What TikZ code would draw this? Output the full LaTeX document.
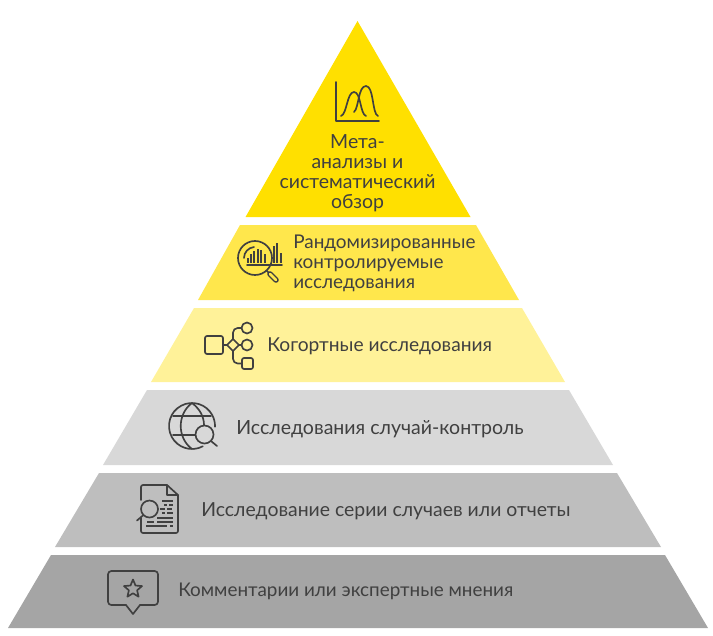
\documentclass[tikz,border=0pt]{standalone}
\usepackage{fontspec}
\setmainfont{Lato}
\definecolor{ink}{HTML}{404040}
\definecolor{lay1}{HTML}{FFE000}
\definecolor{lay2}{HTML}{FFE74C}
\definecolor{lay3}{HTML}{FFF299}
\definecolor{lay4}{HTML}{D8D8D8}
\definecolor{lay5}{HTML}{BEBEBE}
\definecolor{lay6}{HTML}{A5A5A5}
\tikzset{
  label text/.style={inner sep=0pt,text=ink,anchor=west},
  fs/.style={font=\fontsize{#1pt}{15pt}\selectfont},
  ico/.style={draw=ink,line width=1.25pt,line join=round,line cap=round,fill=none},
  icothin/.style={draw=ink,line width=0.9pt,line cap=butt,fill=none},
}
\begin{document}
\begin{tikzpicture}[x=0.75pt,y=-0.75pt]
\useasboundingbox (0,0) rectangle (713,635);
% layers
\fill[lay1] (357.5,21) -- (470.5,217) -- (245.5,217) -- cycle;
\fill[lay2] (240,225) -- (476,225) -- (519,300) -- (198,300) -- cycle;
\fill[lay3] (194,308) -- (522,308) -- (565,382) -- (151,382) -- cycle;
\fill[lay4] (147,390) -- (569,390) -- (613,465) -- (103,465) -- cycle;
\fill[lay5] (99,473) -- (617,473) -- (661,547) -- (55,547) -- cycle;
\fill[lay6] (51,555) -- (665,555) -- (708,628) -- (8,628) -- cycle;
% texts
\node[label text,fs=14.6,anchor=center,align=center] (t1) at (357.5,173) {Мета-\\анализы и\\систематический\\обзор};
\node[label text,fs=14.2,align=left] (t2) at (293,263) {Рандомизированные\\контролируемые\\исследования};
\node[label text,fs=14.4] (t3) at (267,346) {Когортные исследования};
\node[label text,fs=14.65] (t4) at (236,429) {Исследования случай-контроль};
\node[label text,fs=14.55] (t5) at (201,511) {Исследование серии случаев или отчеты};
\node[label text,fs=14.15] (t6) at (178,591) {Комментарии или экспертные мнения};
% icon 1: bell curves
\draw[ico] (336,82) -- (336,121) -- (379,121);
\draw[ico] (341,116) .. controls (347,114) and (347,92) .. (354,92) .. controls (361,92) and (360,114) .. (366,116);
\draw[ico] (354,112) .. controls (359,108) and (358,86) .. (366,86) .. controls (374,86) and (372,114) .. (378,116);
% icon 2: magnifier with bars
\draw[ico] (255,258) circle (17);
\draw[ico] (244,258) arc[start angle=180,end angle=265,radius=11];
\draw[ico] (266.5,270.5) -- (269,273);
\draw[ico,line width=4.2pt] (270,274) -- (276,280);
\draw[draw=lay2,line width=2.1pt,line cap=round] (270,274) -- (276,280);
\draw[ico] (247,265) -- (282,265);
\foreach \x/\t in {248/258,251/254,254/251,258/249,261/250,265/254,274/246,277/243,281/253}
  \draw[icothin] (\x,262.5) -- (\x,\t);
% icon 3: flow
\draw[ico,rounded corners=1.5pt] (205,336) rectangle (223,354);
\draw[ico] (223,345) -- (227,345);
\draw[ico] (227,345) -- (233,339) -- (239,345) -- (233,351) -- cycle;
\draw[ico] (239,345) -- (241.5,345);
\draw[ico] (247,345) circle (5.5);
\draw[ico] (247,328) circle (5.5);
\draw[ico,rounded corners=1.5pt] (242,358) rectangle (253,369);
\draw[ico,rounded corners=3.5pt] (233,339) -- (233,328) -- (241.5,328);
\draw[ico,rounded corners=3.5pt] (233,351) -- (233,363.5) -- (242,363.5);
% icon 4: globe
\draw[ico] (192,426) ++(62:23) arc[start angle=62,end angle=362,radius=23];
\draw[ico] (192,403) .. controls (177,414) and (177,438) .. (192,449);
\draw[ico] (192,403) .. controls (200,409) and (204,417) .. (204,425);
\draw[ico] (173,416) -- (211,416);
\draw[ico] (173,435) -- (195,435);
\draw[ico] (204.5,434.5) circle (9);
\draw[ico] (211,441) -- (217,446);
% icon 5: document
\draw[ico,rounded corners=1.5pt] (141,500) -- (141,485) -- (167,485);
\draw[ico] (167,485) -- (178,495) -- (167,495) -- cycle;
\draw[ico,rounded corners=1.5pt] (178,495) -- (178,533) -- (141,533) -- (141,518);
\draw[ico] (149.5,509) circle (8.5);
\draw[ico] (143.5,515) -- (137,520.5);
\foreach \y/\a/\b in {501/162/173,505/164/167,505/169/173,509/160/165,509/167/172,513/162/165,513/167/173,518/157/173,522/147/154,522/157/173,526/146/167,526/170/173}
  \draw[icothin,line width=1.1pt] (\a,\y) -- (\b,\y);
% icon 6: speech bubble with star
\draw[ico,rounded corners=2.5pt] (126,605) -- (108,605) -- (108,571) -- (158,571) -- (158,605) -- (140,605);
\draw[ico] (126,605) -- (133,614) -- (140,605);
\draw[ico] (133,579.5) -- (135.5,585.5) -- (142,586.1) -- (137.1,590.3) -- (138.6,596.7) -- (133,593.3) -- (127.4,596.7) -- (128.9,590.3) -- (124,586.1) -- (130.5,585.5) -- cycle;
\end{tikzpicture}
\end{document}
